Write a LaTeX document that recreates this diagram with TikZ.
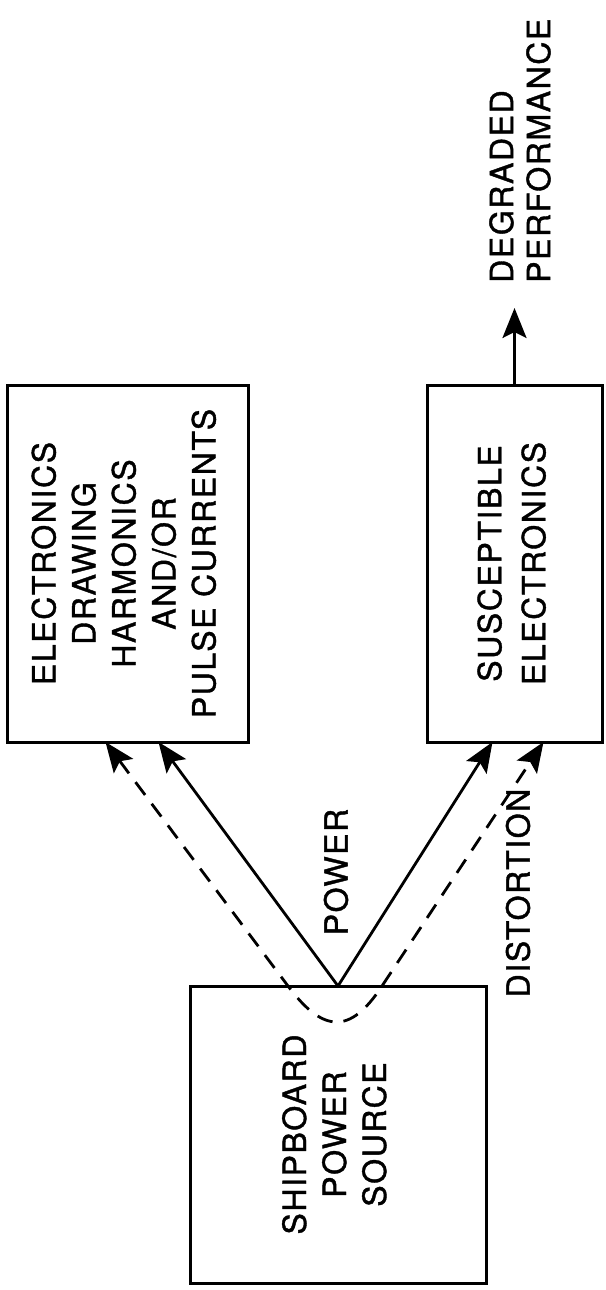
\documentclass[tikz,border=0pt]{standalone}
\usepackage{fontspec}
\setmainfont{TeX Gyre Heros}[LetterSpace=5, FakeBold=1.2]
\usepackage{graphicx}
\usetikzlibrary{arrows.meta,calc}
\tikzset{block/.style={draw, line width=3pt, inner sep=0pt, outer sep=0pt, font=\fontsize{32}{40}\selectfont},
txt/.style={rotate=90, inner sep=0pt, align=left, font=\fontsize{32}{40}\selectfont},
flow/.style={line width=2.8pt, -{Stealth[length=30pt, width=24pt, inset=6pt]}},
leak/.style={line width=2.8pt, dash pattern=on 16pt off 11pt}}

\begin{document}
\begin{tikzpicture}[x=1pt,y=-1pt]
\useasboundingbox (0,0) rectangle (605,1290);

\node[block, minimum width=241pt, minimum height=357pt] (loads) at (127.5,563.5)
{\rotatebox{90}{\begin{tabular}{@{}c@{}}ELECTRONICS\\DRAWING\\HARMONICS\\AND/OR\\PULSE CURRENTS\end{tabular}}};
\node[block, minimum width=175pt, minimum height=357pt] (victim) at (514.5,563.5)
{\rotatebox{90}{\fontsize{32}{44}\selectfont\begin{tabular}{@{}c@{}}SUSCEPTIBLE\\ELECTRONICS\end{tabular}}};
\node[block, minimum width=296pt, minimum height=297pt] (source) at (338,1134.5)
{\rotatebox{90}{\begin{tabular}{@{}c@{}}SHIPBOARD\\POWER\\SOURCE\end{tabular}}};

\coordinate (pL) at ([xshift=31pt]loads.south);
\coordinate (dL) at ([xshift=-22pt]loads.south);
\coordinate (pR) at ([xshift=-22pt]victim.south);
\coordinate (dR) at ([xshift=29pt]victim.south);
\coordinate (cL) at ([xshift=-50pt]source.north);
\coordinate (cR) at ([xshift=44pt]source.north);
\coordinate (out) at ([yshift=77pt]victim.north);

\draw[flow] (source.north) -- (pL);
\draw[flow] (source.north) -- (pR);
\draw[leak, {Stealth[length=30pt, width=24pt, inset=6pt]}-{Stealth[length=30pt, width=24pt, inset=6pt]}]
(dL) -- (cL) .. controls ($(cL)+(35,47)$) and ($(cR)+(-32,49)$) .. (cR) -- (dR);
\draw[flow] (victim.north) -- (out);

\node[txt, anchor=west, font=\fontsize{32}{37}\selectfont] (perf) at (520,283) {DEGRADED\\PERFORMANCE};
\node[txt] (pwr) at (336,872) {POWER};
\node[txt] (dist) at (518,893) {DISTORTION};
\end{tikzpicture}
\end{document}
